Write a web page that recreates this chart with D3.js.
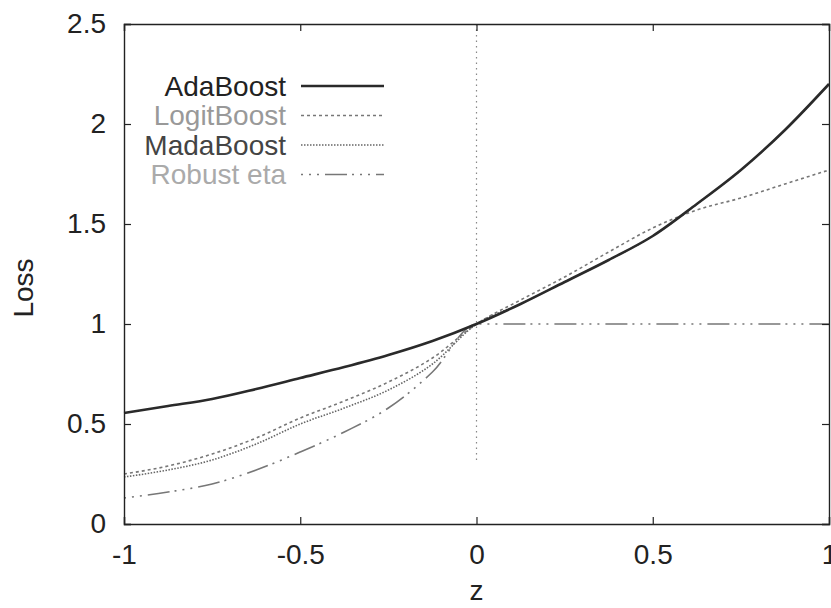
<!DOCTYPE html>
<html lang="en">
<head>
  <meta charset="utf-8">
  <title>Loss curves</title>
  <script src="https://cdn.jsdelivr.net/npm/d3@7"></script>
  <style>
    body { margin: 0; background: #fff; }
    text { font-family: "Liberation Sans", Arial, sans-serif; }
  </style>
</head>
<body>
  <svg class="chart" width="831" height="608"></svg>
  <script>
    var width = 831, height = 608;
    var margin = { top: 24, right: 1, bottom: 84, left: 124 };
    var fontSize = 28;

    // values
    var zs         = [-1, -0.875, -0.75, -0.625, -0.5, -0.375, -0.25, -0.125, 0,
                      0.125, 0.25, 0.375, 0.5, 0.625, 0.75, 0.875, 1];
    var adaBoost   = [0.555, 0.59, 0.625, 0.675, 0.73, 0.785, 0.845, 0.915, 1.0,
                      1.1, 1.21, 1.32, 1.44, 1.6, 1.77, 1.97, 2.2];
    var logitBoost = [0.25, 0.29, 0.35, 0.43, 0.53, 0.615, 0.71, 0.83, 1.0,
                      1.12, 1.235, 1.36, 1.48, 1.57, 1.63, 1.7, 1.77];
    var madaBoost  = [0.235, 0.27, 0.32, 0.4, 0.5, 0.58, 0.67, 0.8, 1.0,
                      1.1, 1.21, 1.32, 1.44, 1.6, 1.77, 1.97, 2.2];
    var robustEta  = [0.13, 0.16, 0.2, 0.27, 0.36, 0.46, 0.58, 0.76, 1.0,
                      1.0, 1.0, 1.0, 1.0, 1.0, 1.0, 1.0, 1.0];

    var xTicks = [-1, -0.5, 0, 0.5, 1];
    var yTicks = [0, 0.5, 1, 1.5, 2, 2.5];

    var series = [
      { name: "MadaBoost",  values: madaBoost,  color: "#666", width: 1.6, dash: "1.5,1.5", text: "#444" },
      { name: "LogitBoost", values: logitBoost, color: "#777", width: 1.6, dash: "3,3",     text: "#999" },
      { name: "Robust eta", values: robustEta,  color: "#777", width: 1.6, dash: "2,6,2,6,2,6,22,5", text: "#aaa" },
      { name: "AdaBoost",   values: adaBoost,   color: "#2a2a2a", width: 2.6, dash: null,  text: "#222" }
    ];
    var legendOrder = ["AdaBoost", "LogitBoost", "MadaBoost", "Robust eta"];

    var x = d3.scaleLinear().domain([-1, 1]).range([margin.left, width - margin.right - 1]);
    var y = d3.scaleLinear().domain([0, 2.5]).range([height - margin.bottom, margin.top]);

    var svg = d3.select("svg.chart");

    // zero line
    svg.append("line")
       .attr("x1", x(0)).attr("x2", x(0))
       .attr("y1", y(2.5)).attr("y2", y(0.31))
       .attr("stroke", "#888").attr("stroke-width", 1.2)
       .attr("stroke-dasharray", "1.5,4");

    // curves
    var line = d3.line()
                 .curve(d3.curveMonotoneX)
                 .x(function(d) { return x(d[0]); })
                 .y(function(d) { return y(d[1]); });

    series.forEach(function(s) {
      svg.append("path")
         .datum(d3.zip(zs, s.values))
         .attr("d", line)
         .attr("fill", "none")
         .attr("stroke", s.color)
         .attr("stroke-width", s.width)
         .attr("stroke-dasharray", s.dash);
    });

    // axes, gnuplot style: ticks inside, mirrored
    var tickLen = 7;
    svg.append("g")
       .attr("transform", "translate(0," + y(0) + ")")
       .call(d3.axisBottom(x).tickValues(xTicks).tickSize(-tickLen).tickPadding(tickLen + 13)
               .tickFormat(function(d) { return d; }));
    svg.append("g")
       .attr("transform", "translate(0," + y(2.5) + ")")
       .call(d3.axisTop(x).tickValues(xTicks).tickSize(-tickLen).tickFormat(""));
    svg.append("g")
       .attr("transform", "translate(" + x(-1) + ",0)")
       .call(d3.axisLeft(y).tickValues(yTicks).tickSize(-tickLen).tickPadding(tickLen + 11)
               .tickFormat(function(d) { return d; }));
    svg.append("g")
       .attr("transform", "translate(" + x(1) + ",0)")
       .call(d3.axisRight(y).tickValues(yTicks).tickSize(-tickLen).tickFormat(""));

    svg.selectAll(".domain").attr("stroke", "#222").attr("stroke-width", 1.4);
    svg.selectAll(".tick line").attr("stroke", "#222").attr("stroke-width", 1.2);
    svg.selectAll(".tick text")
       .attr("font-size", fontSize)
       .attr("font-family", "Liberation Sans, Arial, sans-serif")
       .attr("fill", "#222");

    // axis titles
    svg.append("text")
       .attr("x", x(0)).attr("y", 600)
       .attr("text-anchor", "middle")
       .attr("font-size", fontSize).attr("fill", "#222")
       .text("z");
    svg.append("text")
       .attr("transform", "translate(33," + y(1.18) + ") rotate(-90)")
       .attr("text-anchor", "middle")
       .attr("font-size", fontSize).attr("fill", "#222")
       .text("Loss");

    // legend
    var legend = svg.append("g");
    legendOrder.forEach(function(name, i) {
      var s = series.find(function(d) { return d.name === name; });
      var ly = 86 + i * 29.5;
      legend.append("text")
            .attr("x", 286).attr("y", ly)
            .attr("dy", "0.35em")
            .attr("text-anchor", "end")
            .attr("font-size", fontSize)
            .attr("fill", s.text)
            .text(name);
      legend.append("line")
            .attr("x1", 301).attr("x2", 384)
            .attr("y1", ly).attr("y2", ly)
            .attr("stroke", s.color)
            .attr("stroke-width", s.width)
            .attr("stroke-dasharray", s.dash);
    });
  </script>
</body>
</html>
